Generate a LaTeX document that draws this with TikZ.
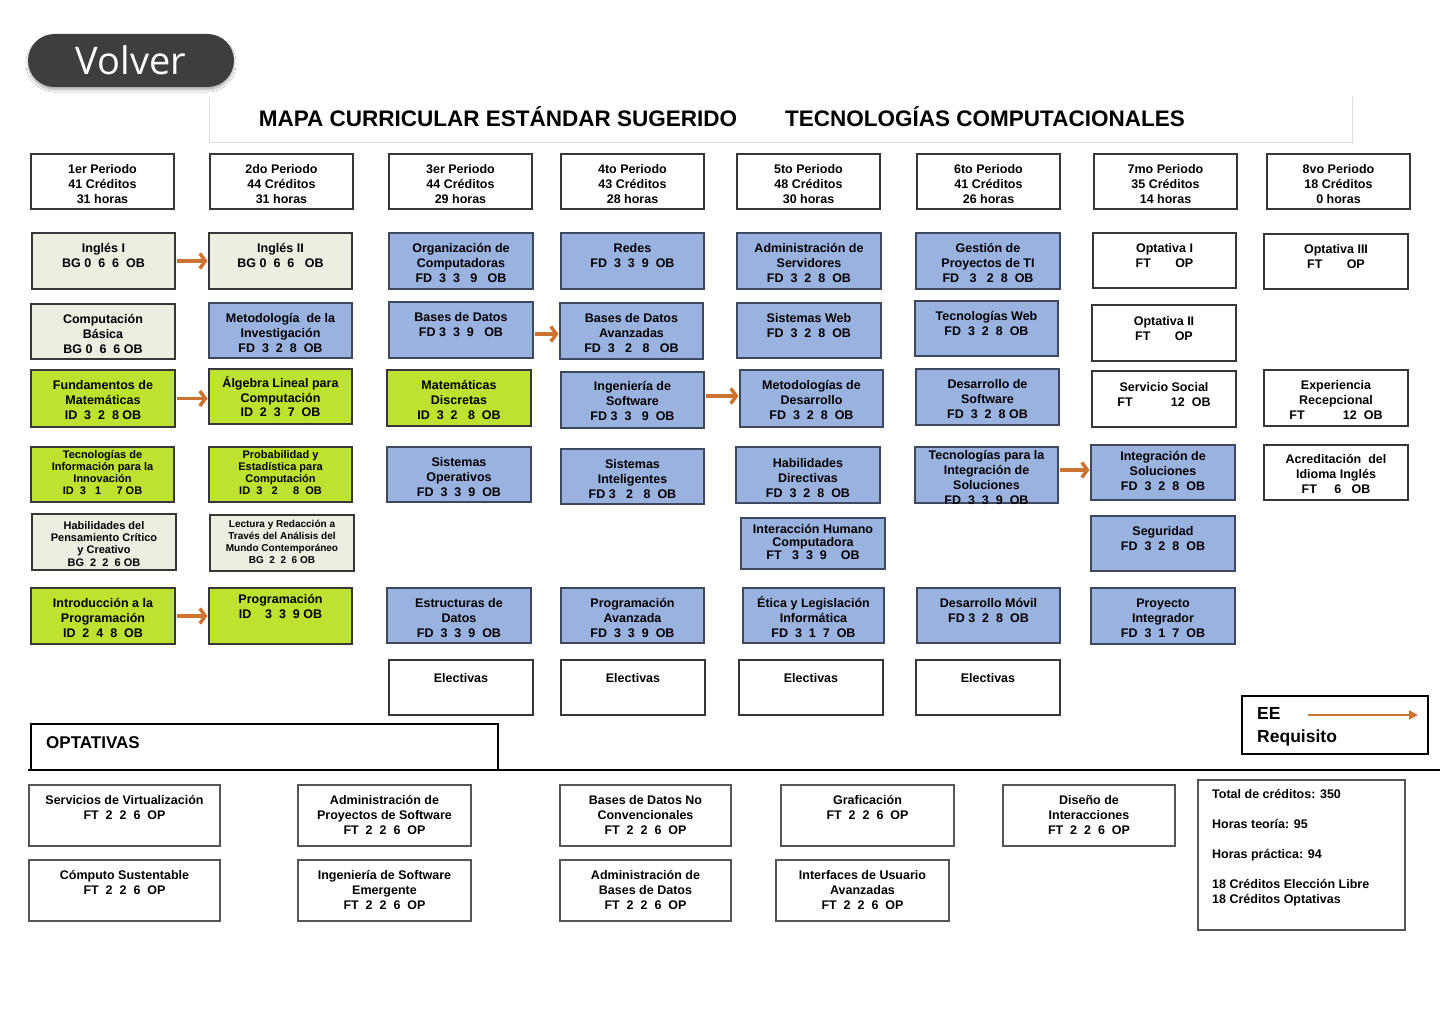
\documentclass[tikz,border=0pt]{standalone}
\usepackage{fontspec}
\setmainfont{Liberation Sans}
\newfontfamily\volverfont{Open Sans}
\usetikzlibrary{arrows.meta,shadows.blur}
\definecolor{cblue}{RGB}{153,178,224}
\definecolor{blueb}{RGB}{62,72,95}
\definecolor{cgreen}{RGB}{190,226,48}
\definecolor{cbeige}{RGB}{238,237,226}
\definecolor{bordc}{RGB}{55,55,55}
\definecolor{optb}{RGB}{85,85,85}
\definecolor{arrc}{RGB}{205,115,50}
\definecolor{pillc}{RGB}{62,62,62}
\definecolor{bandc}{RGB}{222,222,222}
\newcommand\cbox[8][txt]{%
  \node[#3, anchor=north west, minimum width={(#6-#4)*1pt}, minimum height={(#7-#5)*1pt}] (#2) at (#4,#5) {};
  \node[#1, anchor=north] (#2-t) at ([yshift=-10.5pt]#2.north) {#8};
}
\begin{document}
\begin{tikzpicture}[x=1pt,y=-1pt,
  base/.style={draw=bordc, line width=1.2pt, outer sep=0pt, inner sep=0pt},
  bluebox/.style={base, fill=cblue, draw=blueb},
  greenbox/.style={base, fill=cgreen},
  beigebox/.style={base, fill=cbeige},
  whitebox/.style={base, fill=white},
  optbox/.style={base, fill=white, draw=optb, line width=1.2pt},
  txt/.style={align=center, inner sep=0pt, font=\bfseries\fontsize{12.5}{15}\selectfont, execute at begin node={\rule{0pt}{12pt}}},
  smalltxt/.style={txt, font=\bfseries\fontsize{11}{12}\selectfont, yshift=7pt},
  req/.style={draw=arrc, line width=3.5pt, -{Straight Barb[length=5.5pt,width=15pt]}, shorten <=1.5pt, shorten >=1.5pt}
]
\useasboundingbox (0,0) rectangle (1440,1024);
\fill[white] (0,0) rectangle (1440,1024);

% Volver button
\node[fill=pillc, rounded corners=26.5pt, minimum width=206pt, minimum height=53pt, inner sep=0pt,
  blur shadow={shadow xshift=0pt, shadow yshift=-3pt, shadow blur steps=8, shadow opacity=30},
  text=white, font=\volverfont\fontsize{38}{40}\selectfont] (volver) at (131,60.5) {Volver};

% Title band
\draw[bandc, line width=1pt] (209,97) -- (209,143) -- (1352,143) -- (1352,97);
\node[anchor=base, inner sep=0pt, font=\bfseries\fontsize{22.5}{26}\selectfont] (title1) at (498,127) {MAPA CURRICULAR ESTÁNDAR SUGERIDO};
\node[anchor=base, inner sep=0pt, font=\bfseries\fontsize{22.5}{26}\selectfont] (title2) at (985,127) {TECNOLOGÍAS COMPUTACIONALES};

% Headers
\cbox{h1}{whitebox}{31}{154}{174}{209}{1er Periodo\\41 Créditos\\31 horas}
\cbox{h2}{whitebox}{210}{154}{353}{209}{2do Periodo\\44 Créditos\\31 horas}
\cbox{h3}{whitebox}{389}{154}{532}{209}{3er Periodo\\44 Créditos\\29 horas}
\cbox{h4}{whitebox}{561}{154}{704}{209}{4to Periodo\\43 Créditos\\28 horas}
\cbox{h5}{whitebox}{737}{154}{880}{209}{5to Periodo\\48 Créditos\\30 horas}
\cbox{h6}{whitebox}{917}{154}{1060}{209}{6to Periodo\\41 Créditos\\26 horas}
\cbox{h7}{whitebox}{1094}{154}{1237}{209}{7mo Periodo\\35 Créditos\\14 horas}
\cbox{h8}{whitebox}{1267}{154}{1410}{209}{8vo Periodo\\18 Créditos\\0 horas}

% Row A
\cbox{ing1}{beigebox}{32}{233}{175}{289}{Inglés I\\BG 0~ 6~ 6~ OB}
\cbox{ing2}{beigebox}{209}{233}{352}{289}{Inglés II\\BG 0~ 6~ 6~~ OB}
\cbox{orgc}{bluebox}{389}{233}{533}{289}{Organización de\\Computadoras\\FD~ 3~ 3~~ 9~~ OB}
\cbox{redes}{bluebox}{561}{233}{704}{289}{Redes\\FD~ 3~ 3~ 9~ OB}
\cbox{adms}{bluebox}{737}{233}{881}{289}{Administración de\\Servidores\\FD~ 3~ 2~ 8~ OB}
\cbox{gest}{bluebox}{916}{233}{1060}{289}{Gestión de\\Proyectos de TI\\FD~~ 3~~ 2~ 8~ OB}
\cbox{opt1}{whitebox}{1093}{233}{1236}{288}{Optativa I\\FT~~~~~~ OP}
\cbox{opt3}{whitebox}{1264}{234}{1408}{289}{Optativa III\\FT~~~~~~ OP}

% Row B
\cbox{compb}{beigebox}{31}{304}{175}{359}{Computación\\Básica\\BG 0~ 6~ 6 OB}
\cbox{metinv}{bluebox}{209}{303}{352}{358}{Metodología~ de la\\Investigación\\FD~ 3~ 2~ 8~ OB}
\cbox{bd}{bluebox}{389}{302}{533}{358}{Bases de Datos\\FD 3~ 3~ 9~~ OB}
\cbox{bda}{bluebox}{560}{303}{703}{359}{Bases de Datos\\Avanzadas\\FD~ 3~~ 2~~ 8~~ OB}
\cbox{sweb}{bluebox}{737}{303}{881}{358}{Sistemas Web\\FD~ 3~ 2~ 8~ OB}
\cbox{tweb}{bluebox}{915}{301}{1058}{356}{Tecnologías Web\\FD~ 3~ 2~ 8~ OB}
\cbox[txt,yshift=-1pt]{opt2}{whitebox}{1092}{305}{1236}{361}{Optativa II\\FT~~~~~~ OP}

% Row C
\cbox{fmat}{greenbox}{31}{370}{175}{427}{Fundamentos de\\Matemáticas\\ID~ 3~ 2~ 8 OB}
\cbox[txt,yshift=3pt,font=\bfseries\fontsize{12.5}{14.5}\selectfont]{alg}{greenbox}{209}{369}{352}{424}{Álgebra Lineal para\\Computación\\ID~ 2~ 3~ 7~ OB}
\cbox{mdis}{greenbox}{387}{370}{531}{426}{Matemáticas\\Discretas\\ID~ 3~ 2~~ 8~ OB}
\cbox[txt,yshift=1pt]{isw}{bluebox}{561}{372}{704}{428}{Ingeniería de\\Software\\FD 3~ 3~~ 9~ OB}
\cbox{mdes}{bluebox}{740}{370}{883}{427}{Metodologías de\\Desarrollo\\FD~ 3~ 2~ 8~ OB}
\cbox{dsw}{bluebox}{916}{369}{1059}{425}{Desarrollo de\\Software\\FD~ 3~ 2~ 8 OB}
\cbox[txt,yshift=-1pt]{ssoc}{whitebox}{1092}{371}{1236}{427}{Servicio Social\\FT~~~~~~~~~~ 12~ OB}
\cbox{exrec}{whitebox}{1264}{370}{1408}{426}{Experiencia\\Recepcional\\FT~~~~~~~~~~ 12~ OB}

% Row D
\cbox[smalltxt]{tii}{greenbox}{31}{447}{174}{502}{Tecnologías de\\Información para la\\Innovación\\ID~ 3~~ 1~~~~ 7 OB}
\cbox[smalltxt]{prob}{greenbox}{209}{447}{352}{502}{Probabilidad y\\Estadística para\\Computación\\ID~ 3~~ 2~~~~ 8~ OB}
\cbox{so}{bluebox}{387}{447}{531}{502}{Sistemas\\Operativos\\FD~ 3~ 3~ 9~ OB}
\cbox{sint}{bluebox}{561}{449}{704}{504}{Sistemas\\Inteligentes\\FD 3~~ 2~~ 8~ OB}
\cbox[txt,yshift=-1pt]{hdir}{bluebox}{736}{447}{880}{503}{Habilidades\\Directivas\\FD~ 3~ 2~ 8~ OB}
\cbox[txt,yshift=7pt]{tis}{bluebox}{915}{447}{1058}{503}{Tecnologías para la\\Integración de\\Soluciones\\FD~ 3~ 3~ 9~ OB}
\cbox[txt,yshift=4pt]{isol}{bluebox}{1091}{445}{1235}{500}{Integración de\\Soluciones\\FD~ 3~ 2~ 8~ OB}
\cbox[txt,yshift=1pt]{acred}{whitebox}{1264}{445}{1408}{500}{Acreditación~ del\\Idioma Inglés\\FT~~~~ 6~~ OB}

% Row E
\cbox[smalltxt,yshift=-3.5pt,font=\bfseries\fontsize{11}{12.3}\selectfont]{hpc}{beigebox}{32}{514}{176}{570}{Habilidades del\\Pensamiento Crítico\\y Creativo\\BG~ 2~ 2~ 6 OB}
\cbox[smalltxt,yshift=-1pt,font=\bfseries\fontsize{10}{12}\selectfont]{lect}{beigebox}{210}{515}{354}{571}{Lectura y Redacción a\\Través del Análisis del\\Mundo Contemporáneo\\BG~ 2~ 2~ 6 OB}
\cbox[txt,yshift=4pt,font=\bfseries\fontsize{12.5}{13}\selectfont]{ihc}{bluebox}{741}{518}{885}{569}{Interacción Humano\\Computadora\\FT~~ 3~ 3~ 9~~~ OB}
\cbox{seg}{bluebox}{1091}{516}{1235}{571}{Seguridad\\FD~ 3~ 2~ 8~ OB}

% Row F
\cbox{iprog}{greenbox}{31}{588}{175}{644}{Introducción a la\\Programación\\ID~ 2~ 4~ 8~ OB}
\cbox[txt,yshift=4pt]{prog}{greenbox}{209}{588}{352}{644}{Programación\\ID~~~ 3~ 3~ 9 OB}
\cbox{edat}{bluebox}{387}{588}{531}{643}{Estructuras de\\Datos\\FD~ 3~ 3~ 9~ OB}
\cbox{pava}{bluebox}{561}{588}{704}{643}{Programación\\Avanzada\\FD~ 3~ 3~ 9~ OB}
\cbox[txt,yshift=2pt]{etica}{bluebox}{743}{588}{884}{643}{Ética y Legislación\\Informática\\FD~ 3~ 1~ 7~ OB}
\cbox{dmov}{bluebox}{917}{588}{1060}{643}{Desarrollo Móvil\\FD 3~ 2~ 8~ OB}
\cbox{pint}{bluebox}{1091}{588}{1235}{644}{Proyecto\\Integrador\\FD~ 3~ 1~ 7~ OB}

% Row G
\cbox{el1}{whitebox}{389}{660}{533}{715}{Electivas}
\cbox{el2}{whitebox}{561}{660}{705}{715}{Electivas}
\cbox{el3}{whitebox}{739}{660}{883}{715}{Electivas}
\cbox{el4}{whitebox}{916}{660}{1060}{715}{Electivas}

% Requisite arrows
\draw[req] (ing1.east) -- (ing1.east -| ing2.west);
\draw[req] (fmat.east) -- (fmat.east -| alg.west);
\draw[req] (iprog.east) -- (iprog.east -| prog.west);
\draw[req] ([yshift=-4pt]bd.east) -- ([yshift=-4pt]bd.east -| bda.west);
\draw[req] ([yshift=4pt]isw.east) -- ([yshift=4pt]isw.east -| mdes.west);
\draw[req] ([yshift=5pt]tis.east) -- ([yshift=5pt]tis.east -| isol.west);

% Legend
\node[draw=black, line width=2.5pt, fill=white, anchor=north west, minimum width=186pt, minimum height=58pt, inner sep=0pt, outer sep=0pt] (legend) at (1242,696) {};
\node[anchor=base west, inner sep=0pt, font=\bfseries\fontsize{17.5}{20}\selectfont] (ee) at (1257,719.5) {EE};
\node[anchor=base west, inner sep=0pt, font=\bfseries\fontsize{17.5}{20}\selectfont] (reqt) at (1257,742) {Requisito};
\coordinate (la) at (1308,715);
\coordinate (lb) at (1418,715);
\draw[arrc, line width=2.5pt, -{Triangle[length=9pt,width=9pt]}] (la) -- (lb);

% Optativas header
\draw[black, line width=2.5pt] (31,770) -- (31,724) -- (498,724) -- (498,770);
\draw[black, line width=2pt] (28,770) -- (1440,770);
\node[anchor=base west, inner sep=0pt, font=\bfseries\fontsize{17}{20}\selectfont] (optt) at (46,748) {OPTATIVAS};

% Optativas boxes
\cbox{o1}{optbox}{29}{785}{220}{846}{Servicios de Virtualización\\FT~ 2~ 2~ 6~ OP}
\cbox{o2}{optbox}{298}{785}{471}{846}{Administración de\\Proyectos de Software\\FT~ 2~ 2~ 6~ OP}
\cbox{o3}{optbox}{560}{785}{731}{846}{Bases de Datos No\\Convencionales\\FT~ 2~ 2~ 6~ OP}
\cbox{o4}{optbox}{781}{785}{954}{846}{Graficación\\FT~ 2~ 2~ 6~ OP}
\cbox{o5}{optbox}{1003}{785}{1175}{846}{Diseño de\\Interacciones\\FT~ 2~ 2~ 6~ OP}
\cbox{o6}{optbox}{29}{860}{220}{921}{Cómputo Sustentable\\FT~ 2~ 2~ 6~ OP}
\cbox{o7}{optbox}{298}{860}{471}{921}{Ingeniería de Software\\Emergente\\FT~ 2~ 2~ 6~ OP}
\cbox{o8}{optbox}{560}{860}{731}{921}{Administración de\\Bases de Datos\\FT~ 2~ 2~ 6~ OP}
\cbox{o9}{optbox}{776}{860}{949}{921}{Interfaces de Usuario\\Avanzadas\\FT~ 2~ 2~ 6~ OP}

% Totals
\node[optbox, line width=1.4pt, anchor=north west, minimum width=207pt, minimum height=150pt] (tot) at (1198,780) {};
\node[anchor=north west, align=left, inner sep=0pt, font=\bfseries\fontsize{12.5}{15}\selectfont,
  execute at begin node={\rule{0pt}{12pt}}] (tott) at (1212,789.5)
  {Total de créditos: 350\\[15pt]Horas teoría: 95\\[15pt]Horas práctica: 94\\[15pt]18 Créditos Elección Libre\\18 Créditos Optativas};
\end{tikzpicture}
\end{document}
